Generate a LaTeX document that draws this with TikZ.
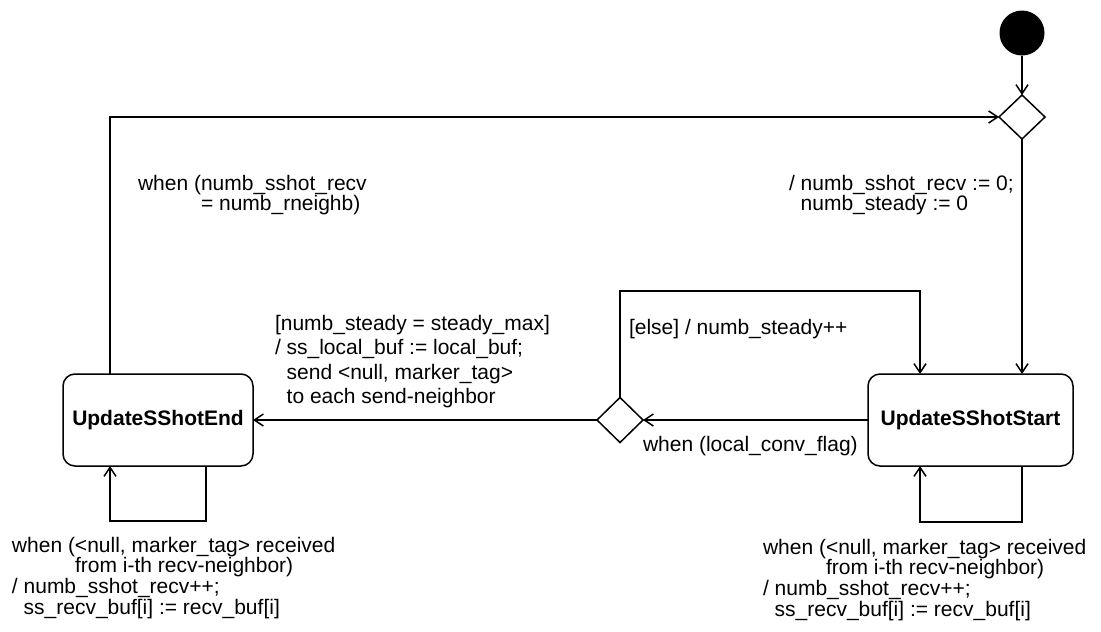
\documentclass[tikz,border=0pt]{standalone}
\usepackage{fontspec}
\setmainfont{Liberation Sans}
\usetikzlibrary{arrows.meta,shapes.geometric}
\begin{document}
\begin{tikzpicture}[x=1pt,y=-1pt,line width=1.5pt,
  every node/.style={inner sep=0pt,outer sep=0pt},
  lbl/.style={anchor=north west,align=left,font=\fontsize{21}{20.6}\selectfont},
  lblwide/.style={anchor=north west,align=left,font=\fontsize{21}{24.5}\selectfont},
  state/.style={draw,rounded corners=12pt,minimum height=92pt,font=\fontsize{21}{25}\selectfont\bfseries},
  choice/.style={draw,diamond,minimum width=46pt,minimum height=44pt},
  initial/.style={fill=black,circle,minimum size=45pt},
  tr/.style={-{Straight Barb[length=9pt,width=12pt]}}]
\useasboundingbox (0,0) rectangle (1101,632);
% nodes
\node[initial] (init) at (1022,33) {};
\node[choice] (d1) at (1022,117) {};
\node[state,minimum width=205pt] (start) at (970.5,420) {UpdateSShotStart};
\node[state,minimum width=190pt] (end) at (158,420) {UpdateSShotEnd};
\node[choice,minimum height=45pt] (d2) at (620,420) {};
% helper coordinates
\coordinate (topL) at (110,117);
\coordinate (elseT) at (920,291);
\coordinate (eloopR) at (206,521);
\coordinate (eloopL) at (110,521);
\coordinate (sloopR) at (1022,522);
\coordinate (sloopL) at (920,522);
% connectors
\draw[tr] (init) -- (d1);
\draw[tr] (d1.south) -- (d1.south |- start.north);
\draw[tr] (start.west) -- (d2.east);
\draw[tr] (d2.west) -- (end.east);
\draw[tr] (d2.north) |- (elseT) -- (elseT |- start.north);
\draw[tr] (end.north -| topL) -- (topL) -- (d1.west);
\draw[tr] (end.south -| eloopR) -- (eloopR) -- (eloopL) -- (end.south -| eloopL);
\draw[tr] (start.south -| sloopR) -- (sloopR) -- (sloopL) -- (start.south -| sloopL);
% labels
\node[lbl] (t1) at (138,175) {when (numb\_sshot\_recv\\\hphantom{when (}= numb\_rneighb)};
\node[lbl] (t2) at (789,175) {/ numb\_sshot\_recv := 0;\\\hphantom{/ }numb\_steady := 0};
\node[lbl] (t3) at (629,319) {[else] / numb\_steady++};
\node[lbl] (t4) at (643,436) {when (local\_conv\_flag)};
\node[lblwide] (t5) at (275,315) {[numb\_steady = steady\_max]\\/ ss\_local\_buf := local\_buf;\\\hphantom{/ }send <null, marker\_tag>\\\hphantom{/ }to each send-neighbor};
\node[lbl] (t6) at (12,537) {when (<null, marker\_tag> received\\\hphantom{when (}from i-th recv-neighbor)\\/ numb\_sshot\_recv++;\\\hphantom{/ }ss\_recv\_buf[i] := recv\_buf[i]};
\node[lbl] (t7) at (763,539) {when (<null, marker\_tag> received\\\hphantom{when (}from i-th recv-neighbor)\\/ numb\_sshot\_recv++;\\\hphantom{/ }ss\_recv\_buf[i] := recv\_buf[i]};
\end{tikzpicture}
\end{document}
